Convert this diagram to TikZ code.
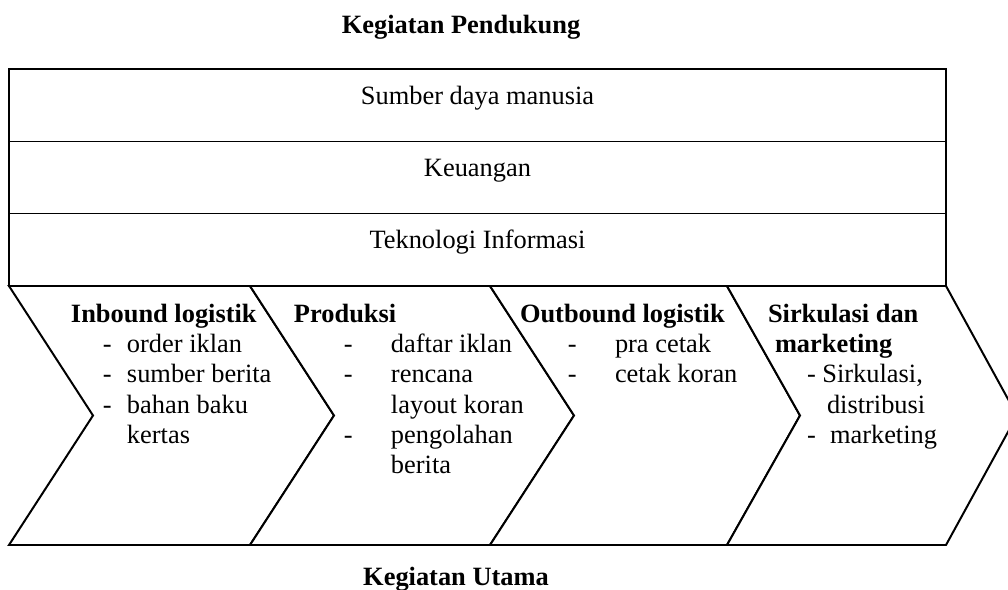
\documentclass[tikz,border=0pt]{standalone}
\usepackage{fontspec}
\setmainfont{Liberation Serif}
\begin{document}
\begin{tikzpicture}[x=0.4545pt,y=-0.4545pt,line width=0.9pt,line join=miter,
  txt/.style={anchor=base west,inner sep=0pt,font=\fontsize{12}{14}\selectfont},
  hd/.style={anchor=base west,inner sep=0pt,font=\fontsize{12}{14}\selectfont\bfseries},
  ctr/.style={anchor=base,inner sep=0pt,font=\fontsize{12}{14}\selectfont},
  ctrb/.style={anchor=base,inner sep=0pt,font=\fontsize{12}{14}\selectfont\bfseries},
  band/.style={draw=black,fill=white},
  chev/.style={draw=black,fill=white}]
\useasboundingbox (0,0) rectangle (1008,590);

% support activities: three stacked rows
\draw[band] (9,69) rectangle (946,141.5);
\draw[band] (9,141.5) rectangle (946,213.5);
\draw[band] (9,213.5) rectangle (946,286);

\node[ctrb] (supTitle) at (461,34) {Kegiatan Pendukung};
\node[ctr] (sdm) at (477.5,105) {Sumber daya manusia};
\node[ctr] (keu) at (477.5,177) {Keuangan};
\node[ctr] (ti) at (477.5,248) {Teknologi Informasi};

% primary activities: four chevrons
\draw[chev] (9,286) -- (250,286) -- (334,415.5) -- (250,545) -- (9,545) -- (93,415.5) -- cycle;
\draw[chev] (250,286) -- (490,286) -- (574,415.5) -- (490,545) -- (250,545) -- (334,415.5) -- cycle;
\draw[chev] (490,286) -- (727,286) -- (800,415.5) -- (727,545) -- (490,545) -- (574,415.5) -- cycle;
\draw[chev] (727,286) -- (946,286) -- (1017,415.5) -- (946,545) -- (727,545) -- (800,415.5) -- cycle;

% inbound logistics
\node[hd] (ibH) at (70,322) {Inbound logistik};
\node[txt] (ibD1) at (102,352) {-};
\node[txt] (ib1) at (126,352) {order iklan};
\node[txt] (ibD2) at (102,382) {-};
\node[txt] (ib2) at (126,382) {sumber berita};
\node[txt] (ibD3) at (102,413) {-};
\node[txt] (ib3) at (126,413) {bahan baku};
\node[txt] (ib4) at (126,443) {kertas};

% operations
\node[hd] (prH) at (293,322) {Produksi};
\node[txt] (prD1) at (343,352) {-};
\node[txt] (pr1) at (390,352) {daftar iklan};
\node[txt] (prD2) at (343,382) {-};
\node[txt] (pr2) at (390,382) {rencana};
\node[txt] (pr3) at (390,413) {layout koran};
\node[txt] (prD3) at (343,443) {-};
\node[txt] (pr4) at (390,443) {pengolahan};
\node[txt] (pr5) at (390,473) {berita};

% outbound logistics
\node[hd] (obH) at (519,322) {Outbound logistik};
\node[txt] (obD1) at (567,352) {-};
\node[txt] (ob1) at (614,352) {pra cetak};
\node[txt] (obD2) at (567,382) {-};
\node[txt] (ob2) at (614,382) {cetak koran};

% sales and marketing
\node[hd] (smH1) at (767,322) {Sirkulasi dan};
\node[hd] (smH2) at (774,352) {marketing};
\node[txt] (sm1) at (806,382) {- Sirkulasi,};
\node[txt] (sm2) at (826,413) {distribusi};
\node[txt] (smD3) at (806,443) {-};
\node[txt] (sm3) at (829,443) {marketing};

\node[ctrb] (priTitle) at (456,585) {Kegiatan Utama};
\end{tikzpicture}
\end{document}
